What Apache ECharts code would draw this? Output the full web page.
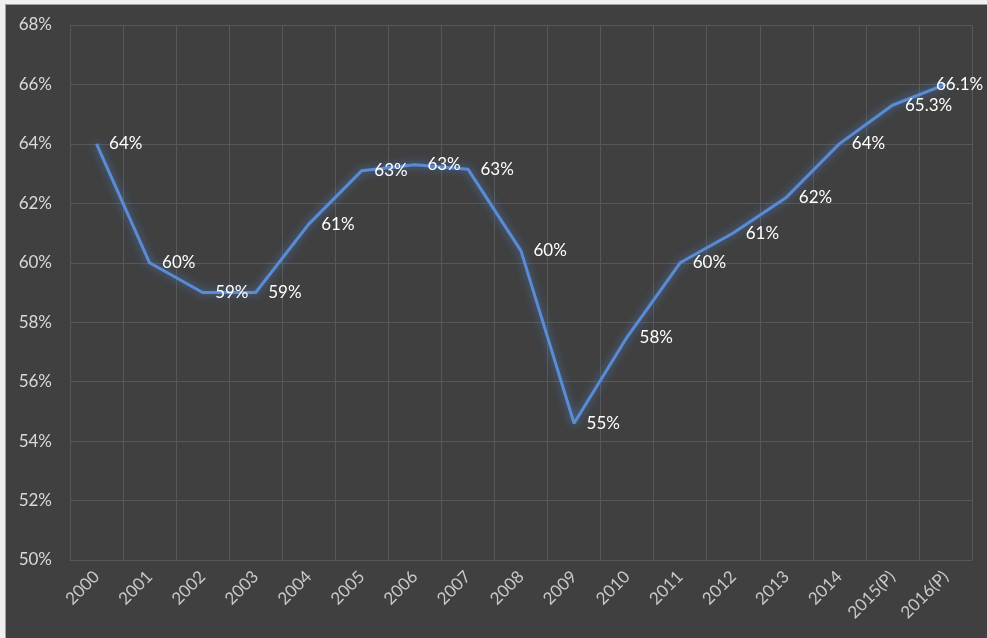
<!DOCTYPE html>
<html><head><meta charset="utf-8">
<script src="https://cdn.jsdelivr.net/npm/echarts@6/dist/echarts.min.js"></script>
<style>html,body{margin:0;padding:0;background:#404040;}#c{width:987px;height:638px;}</style>
</head><body><div id="c"></div>
<script>
const categories = ['2000','2001','2002','2003','2004','2005','2006','2007','2008','2009','2010','2011','2012','2013','2014','2015(P)','2016(P)'];
const values = [64.0, 60.0, 59.0, 59.0, 61.3, 63.1, 63.3, 63.15, 60.4, 54.6, 57.5, 60.0, 61.0, 62.2, 64.0, 65.3, 66.0];
const valueLabels = ['64%','60%','59%','59%','61%','63%','63%','63%','60%','55%','58%','60%','61%','62%','64%','65.3%','66.1%'];
const yTicks = [50, 52, 54, 56, 58, 60, 62, 64, 66, 68];

const font = 'Lato, "Open Sans", sans-serif';
const chart = echarts.init(document.getElementById('c'));
const data = values.map((v, i) => {
  const d = { value: v };
  if (i === values.length - 1) d.label = { offset: [-22, 0] };
  return d;
});
chart.setOption({
  backgroundColor: '#404040',
  animation: false,
  graphic: [
    { type: 'rect', shape: { x: 0, y: 0, width: 987, height: 4 }, style: { fill: '#f0f0f0' } },
    { type: 'rect', shape: { x: 0, y: 0, width: 5, height: 638 }, style: { fill: '#f0f0f0' } },
    { type: 'rect', shape: { x: 5, y: 4, width: 1, height: 634 }, style: { fill: '#a0a0a0' } },
    { type: 'rect', shape: { x: 5, y: 4, width: 982, height: 1 }, style: { fill: '#a0a0a0' } }
  ],
  grid: { left: 70, right: 15, top: 25, bottom: 78, containLabel: false },
  xAxis: {
    type: 'category',
    data: categories,
    boundaryGap: true,
    axisLine: { show: false },
    axisTick: { show: false },
    axisLabel: { rotate: 45, color: '#c8c8c8', fontSize: 17, fontFamily: font, margin: 14, interval: 0 },
    splitLine: { show: true, interval: 0, lineStyle: { color: '#585858', width: 1 } }
  },
  yAxis: {
    type: 'value',
    min: yTicks[0], max: yTicks[yTicks.length - 1], interval: 2,
    axisLine: { show: false },
    axisTick: { show: false },
    axisLabel: { color: '#d9d9d9', fontSize: 17, fontFamily: font, margin: 18, formatter: v => v + '%' },
    splitLine: { show: true, lineStyle: { color: '#585858', width: 1 } }
  },
  series: [{
    type: 'line',
    data: data,
    smooth: false,
    showSymbol: true,
    symbol: 'circle',
    symbolSize: 1,
    itemStyle: { color: 'rgba(0,0,0,0)' },
    lineStyle: { color: '#5b8bd3', width: 3, shadowColor: 'rgba(80,140,230,0.75)', shadowBlur: 8 },
    label: {
      show: true, position: 'right', distance: 12,
      color: '#ffffff', fontSize: 17, fontFamily: font,
      formatter: p => valueLabels[p.dataIndex]
    }
  }]
});
</script></body></html>
